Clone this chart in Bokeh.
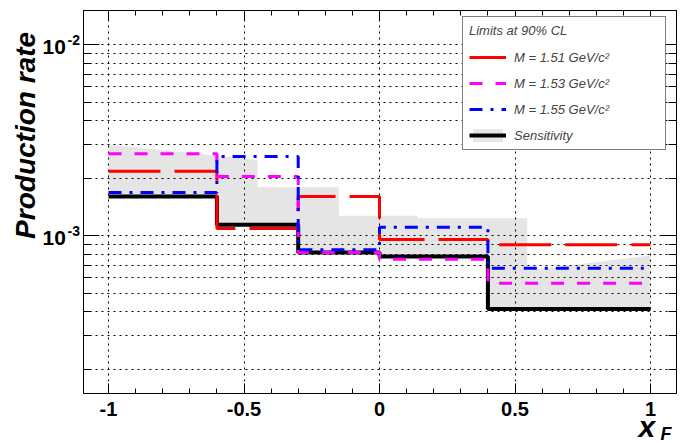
from math import pi
from bokeh.plotting import figure
from bokeh.models import Range1d, FixedTicker, Legend, LegendItem, LinearAxis, LogAxis
from bokeh.core.properties import value
from bokeh.embed import file_html
from bokeh.resources import INLINE

# ---------------- data ----------------
edges = [-1.0, -0.6, -0.3, 0.0, 0.4, 1.0]
limit_151 = [2.17e-3, 1.09e-3, 1.60e-3, 0.953e-3, 0.894e-3]
limit_153 = [2.68e-3, 2.04e-3, 0.815e-3, 0.751e-3, 5.63e-4]
limit_155 = [1.68e-3, 2.59e-3, 0.842e-3, 1.105e-3, 6.74e-4]
sensitivity = [1.60e-3, 1.14e-3, 0.815e-3, 0.776e-3, 4.13e-4]
band_x = [-1.0, -0.45, -0.45, -0.15, -0.15, 0.14, 0.14, 0.545, 0.545, 1.0]
band_upper = [2.99e-3, 2.49e-3, 1.79e-3, 1.79e-3, 1.27e-3, 1.27e-3, 1.23e-3, 1.23e-3, 6.56e-4, 7.86e-4]

series_labels = ["M = 1.51 GeV/c\u00b2", "M = 1.53 GeV/c\u00b2", "M = 1.55 GeV/c\u00b2", "Sensitivity"]
legend_title = "Limits at 90% CL"
x_ticks = [-1.0, -0.5, 0.0, 0.5, 1.0]
x_tick_labels = ["-1", "-0.5", "0", "0.5", "1"]
y_tick_vals = [1e-3, 1e-2]
y_tick_base = ["10", "10"]
y_tick_exps = ["-3", "-2"]
y_title = "Production rate"
x_title_main, x_title_sub = "x", "F"

FONT = "Liberation Sans"
x_start, x_end = -1.0923, 1.0959
y_start, y_end = 10 ** -3.827, 10 ** -1.822

p = figure(width=683, height=443, output_backend="svg", toolbar_location=None,
           x_range=Range1d(x_start, x_end), y_range=Range1d(y_start, y_end),
           y_axis_type="log",
           min_border_left=83, min_border_right=7, min_border_top=10, min_border_bottom=50,
           background_fill_color="white", border_fill_color="white",
           outline_line_color="black", outline_line_width=1)

# ticks
x_minor = [round(-1.0 + 0.1 * i, 1) for i in range(21)]
y_minor = [m * 10.0 ** e for e in (-4, -3, -2) for m in range(2, 10)]

xa = p.xaxis[0]
xa.ticker = FixedTicker(ticks=x_ticks, minor_ticks=x_minor)
xa.major_label_overrides = {v: s for v, s in zip(x_ticks, x_tick_labels)}
xa.major_tick_in = 10
xa.major_tick_out = 0
xa.minor_tick_in = 5
xa.minor_tick_out = 0
xa.axis_line_color = "black"
xa.major_tick_line_color = "black"
xa.minor_tick_line_color = "black"
xa.major_label_text_font = FONT
xa.major_label_text_font_style = "bold"
xa.major_label_text_font_size = "20px"
xa.major_label_text_color = "black"
xa.major_label_standoff = 8

ya = p.yaxis[0]
ya.ticker = FixedTicker(ticks=y_tick_vals, minor_ticks=y_minor)
ya.major_tick_in = 16
ya.major_tick_out = 0
ya.minor_tick_in = 8
ya.minor_tick_out = 0
ya.axis_line_color = "black"
ya.major_tick_line_color = "black"
ya.minor_tick_line_color = "black"
ya.major_label_text_font_size = "2px"
ya.major_label_text_alpha = 0
ya.major_label_standoff = 0

top_axis = LinearAxis(ticker=FixedTicker(ticks=x_ticks, minor_ticks=x_minor),
                      major_tick_in=10, major_tick_out=0, minor_tick_in=5, minor_tick_out=0,
                      major_label_text_font_size="2px", major_label_text_alpha=0,
                      major_label_standoff=0, axis_line_color="black")
p.add_layout(top_axis, "above")
right_axis = LogAxis(ticker=FixedTicker(ticks=y_tick_vals, minor_ticks=y_minor),
                     major_tick_in=16, major_tick_out=0, minor_tick_in=8, minor_tick_out=0,
                     major_label_text_font_size="2px", major_label_text_alpha=0,
                     major_label_standoff=0, axis_line_color="black")
p.add_layout(right_axis, "right")

# grids
p.xgrid.ticker = FixedTicker(ticks=x_ticks)
p.ygrid.ticker = FixedTicker(ticks=sorted(y_tick_vals + y_minor))
for g in (p.xgrid[0], p.ygrid[0]):
    g.grid_line_color = "black"
    g.grid_line_dash = "2 4"
    g.grid_line_width = 1

# band
step_x, step_y = [], []
for i, v in enumerate(sensitivity):
    step_x += [edges[i], edges[i + 1]]
    step_y += [v, v]
poly_x = band_x + step_x[::-1]
poly_y = band_upper + step_y[::-1]
r_band = p.patch(poly_x, poly_y, fill_color="#e5e5e5", line_color=None, level="image")

def stepped(vals):
    return vals + [vals[-1]]

r_black = p.step(edges, stepped(sensitivity), mode="after", line_color="black", line_width=4)
r_red = p.step(edges, stepped(limit_151), mode="after", line_color="#ff0000", line_width=3,
               line_dash="52 14")
r_mag = p.step(edges, stepped(limit_153), mode="after", line_color="#ff00ff", line_width=3,
               line_dash="13 13")
r_blue = p.step(edges, stepped(limit_155), mode="after", line_color="#0000ff", line_width=3,
                line_dash="13 8 3 8")

legend = Legend(items=[LegendItem(label=series_labels[0], renderers=[r_red]),
                       LegendItem(label=series_labels[1], renderers=[r_mag]),
                       LegendItem(label=series_labels[2], renderers=[r_blue]),
                       LegendItem(label=series_labels[3], renderers=[r_band, r_black])],
                location=(379, 243), title=legend_title,
                title_text_font=FONT, title_text_font_style="italic", title_text_font_size="13px",
                title_standoff=11,
                label_text_font=FONT, label_text_font_style="italic", label_text_font_size="13px",
                padding=6, spacing=10, margin=0, glyph_width=37, glyph_height=16,
                label_height=16, label_width=145, label_standoff=8,
                border_line_color="black", border_line_width=1, background_fill_alpha=1.0)
p.add_layout(legend)

# texts outside the frame, drawn as unclipped overlay text glyphs
common = dict(text_font=value(FONT), text_color="black", level="overlay")
p.text(x=[x_start] * len(y_tick_vals), y=y_tick_vals, text=y_tick_base,
       x_offset=-41, y_offset=2.5, text_font_size="21px", text_font_style="bold",
       text_align="left", text_baseline="middle", **common)
p.text(x=[x_start] * len(y_tick_vals), y=y_tick_vals, text=y_tick_exps,
       x_offset=-16, y_offset=-5, text_font_size="14px", text_font_style="bold",
       text_align="left", text_baseline="middle", **common)
p.text(x=[x_start], y=[10 ** -2.476], text=[y_title], angle=pi / 2,
       x_offset=-58, text_font_size="28px", text_font_style="bold italic",
       text_align="center", text_baseline="middle", **common)
p.text(x=[x_end], y=[y_start], text=[x_title_main], x_offset=-38, y_offset=33,
       text_font_size="30px", text_font_style="bold italic",
       text_align="left", text_baseline="middle", **common)
p.text(x=[x_end], y=[y_start], text=[x_title_sub], x_offset=-16, y_offset=40,
       text_font_size="18px", text_font_style="bold italic",
       text_align="left", text_baseline="middle", **common)

open("out.html", "w").write(file_html(p, INLINE))
